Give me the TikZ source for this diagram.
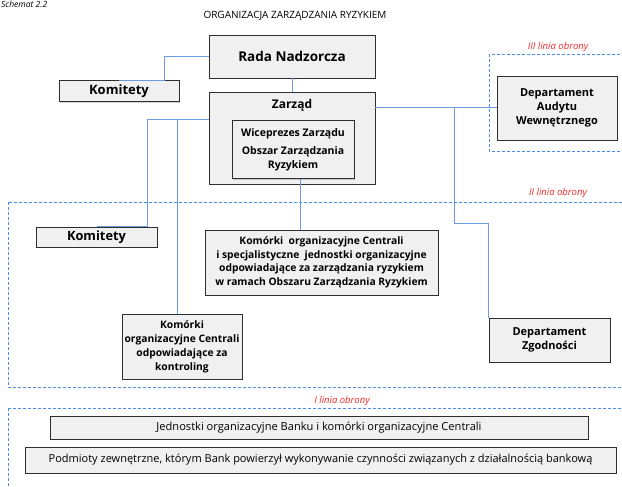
\documentclass[tikz,border=0pt]{standalone}
\usepackage{fontspec}
\setmainfont{Open Sans}
\usetikzlibrary{shadows}
\definecolor{boxgray}{HTML}{F0F0F0}
\definecolor{boxline}{HTML}{2E2E2E}
\definecolor{connblue}{HTML}{6A9BE0}
\definecolor{dashblue}{HTML}{4A90E8}
\definecolor{linred}{HTML}{F02828}
\tikzset{
  box/.style={draw=boxline,line width=0.9pt,fill=boxgray,align=center,inner sep=1pt,
    drop shadow={shadow xshift=1.2pt,shadow yshift=-1.2pt,opacity=0.35}},
  conn/.style={draw=connblue,line width=1pt},
  linia/.style={draw=dashblue,line width=0.9pt,dash pattern=on 3pt off 2pt},
  liniatxt/.style={text=linred,font=\fontsize{9.5}{10}\selectfont\itshape}
}
\begin{document}
\begin{tikzpicture}[x=1pt,y=-1pt]
\useasboundingbox (0,0) rectangle (622,487);
\node[anchor=north west,inner sep=1pt,font=\fontsize{8.5}{9}\selectfont\itshape] (schemat) at (0,0) {Schemat 2.2};
\node[font=\fontsize{10}{12}\selectfont] (tytul) at (295,16) {ORGANIZACJA ZARZĄDZANIA RYZYKIEM};

\draw[linia] (489,54) rectangle (640,151);
\draw[linia] (8,202) rectangle (640,387);
\draw[linia] (8,408) rectangle (640,500);
\node[liniatxt] (l3) at (558,47) {III linia obrony};
\node[liniatxt] (l2) at (558,193) {II linia obrony};
\node[liniatxt] (l1) at (342,401) {I linia obrony};

\node[box,minimum width=166pt,minimum height=43pt,font=\fontsize{13.5}{15}\selectfont\bfseries] (rada) at (292,56.5) {Rada Nadzorcza};
\node[box,minimum width=120pt,minimum height=21pt,font=\fontsize{13}{14}\selectfont\bfseries] (kom1) at (119,91) {Komitety};
\node[box,minimum width=166pt,minimum height=92pt] (zarzad) at (292,138) {};
\node[font=\fontsize{12}{14}\selectfont\bfseries] (zarzadtxt) at (292,105) {Zarząd};
\node[box,minimum width=122pt,minimum height=58pt,font=\fontsize{10.5}{15}\selectfont\bfseries] (wice) at (293,149.5) {Wiceprezes Zarządu\\[3pt]Obszar Zarządzania\\[-1pt]Ryzykiem};
\node[box,minimum width=120pt,minimum height=64pt,font=\fontsize{11}{14}\selectfont\bfseries] (audyt) at (557,108) {Departament\\Audytu\\Wewnętrznego};
\node[box,minimum width=121pt,minimum height=20pt,font=\fontsize{12.8}{14}\selectfont\bfseries] (kom2) at (96.5,237) {Komitety};
\node[box,minimum width=233pt,minimum height=65pt,font=\fontsize{10.3}{13.5}\selectfont\bfseries] (komorki) at (321.5,262.5) {Komórki\ \ organizacyjne Centrali\\i specjalistyczne\ \ jednostki organizacyjne\\odpowiadające za zarządzania ryzykiem\\w ramach Obszaru Zarządzania Ryzykiem};
\node[box,minimum width=120pt,minimum height=65pt,font=\fontsize{10.3}{14}\selectfont\bfseries] (kontr) at (182,346.5) {Komórki\\organizacyjne Centrali\\odpowiadające za\\kontroling};
\node[box,minimum width=121pt,minimum height=44pt,font=\fontsize{11}{14}\selectfont\bfseries] (zgod) at (549.5,340) {Departament\\Zgodności};
\node[box,minimum width=538pt,minimum height=23pt,font=\fontsize{11.1}{12}\selectfont] (jedn) at (319,427.5) {Jednostki organizacyjne Banku i komórki organizacyjne Centrali};
\node[box,minimum width=591pt,minimum height=26pt,font=\fontsize{11}{12}\selectfont] (podm) at (320.5,460) {Podmioty zewnętrzne, którym Bank powierzył wykonywanie czynności związanych z działalnością bankową};

\coordinate (rozw) at (454,108);
\draw[conn] (rada.west) -- ++(-44,0) |- (kom1.north);
\draw[conn] (rada.south) -- (zarzad.north);
\draw[conn] ([yshift=18pt]zarzad.west) -| ([xshift=50.5pt]kom2.north) -- (kom2.north);
\draw[conn] ([xshift=-5pt]kontr.north) |- ([yshift=18pt]zarzad.west);
\draw[conn] ([xshift=7pt]wice.south) -- ([xshift=7pt]wice.south |- komorki.north);
\draw[conn] ([yshift=30pt]zarzad.east) -- (audyt.west);
\draw[conn] (rozw) -- (454,223) -| (zgod.north west);
\end{tikzpicture}
\end{document}
